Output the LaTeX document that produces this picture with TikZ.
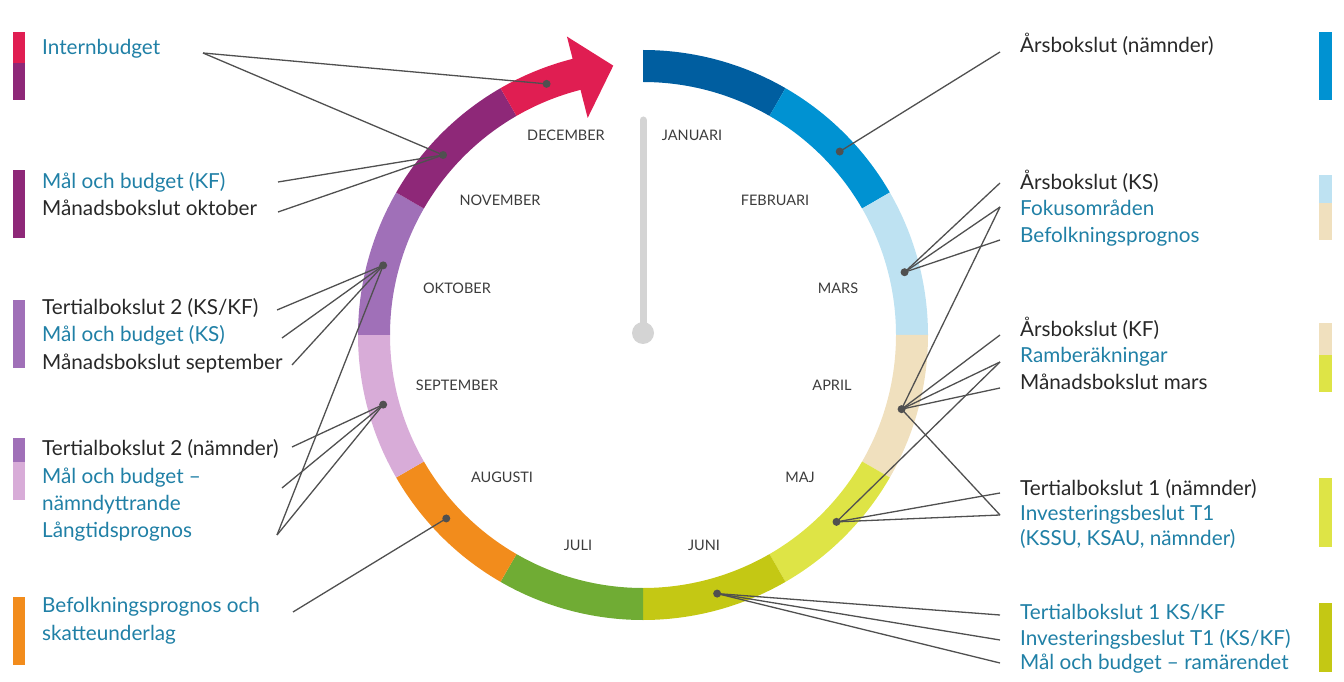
\documentclass[tikz,border=0pt]{standalone}
\usepackage{fontspec}
\setmainfont{Lato}
\usetikzlibrary{calc,positioning}
\definecolor{janc}{RGB}{0,94,160}
\definecolor{febc}{RGB}{0,146,210}
\definecolor{marc}{RGB}{190,226,242}
\definecolor{aprc}{RGB}{240,224,190}
\definecolor{majc}{RGB}{222,228,70}
\definecolor{junc}{RGB}{196,200,20}
\definecolor{julc}{RGB}{112,172,52}
\definecolor{augc}{RGB}{242,140,28}
\definecolor{sepc}{RGB}{216,172,216}
\definecolor{oktc}{RGB}{160,112,184}
\definecolor{novc}{RGB}{142,40,120}
\definecolor{decc}{RGB}{224,30,82}
\definecolor{tblue}{RGB}{32,128,166}
\definecolor{tdark}{RGB}{40,40,40}
\definecolor{leadc}{RGB}{80,80,80}
\definecolor{rodc}{RGB}{212,212,212}
\definecolor{monthc}{RGB}{60,60,60}

\begin{document}
\begin{tikzpicture}[x=1pt,y=1pt,
    txt/.style={anchor=west,inner sep=0pt,text height=15pt,text depth=5pt,
      font=\fontsize{20.7}{25}\selectfont},
    blu/.style={txt,text=tblue},
    drk/.style={txt,text=tdark},
    month/.style={font=\fontsize{14.5}{16}\selectfont,text=monthc},
    lead/.style={leadc,line width=1.3pt},
    dot/.style={fill=leadc}]
      \useasboundingbox (0,0) rectangle (1344,681);
      % Centre of the year wheel
      \coordinate (O) at (643,346);
      % Month segments (outer 285, inner 253)
      \begin{scope}[shift={(O)}]
        \fill[janc] (90:285) arc (90:60:285) -- (60:253) arc (60:90:253) -- cycle;
        \fill[febc] (60:285) arc (60:30:285) -- (30:253) arc (30:60:253) -- cycle;
        \fill[marc] (30:285) arc (30:0:285) -- (0:253) arc (0:30:253) -- cycle;
        \fill[aprc] (0:285) arc (0:-30:285) -- (-30:253) arc (-30:0:253) -- cycle;
        \fill[majc] (-30:285) arc (-30:-60:285) -- (-60:253) arc (-60:-30:253) -- cycle;
        \fill[junc] (-60:285) arc (-60:-90:285) -- (-90:253) arc (-90:-60:253) -- cycle;
        \fill[julc] (-90:285) arc (-90:-120:285) -- (-120:253) arc (-120:-90:253) -- cycle;
        \fill[augc] (-120:285) arc (-120:-150:285) -- (-150:253) arc (-150:-120:253) -- cycle;
        \fill[sepc] (-150:285) arc (-150:-180:285) -- (-180:253) arc (-180:-150:253) -- cycle;
        \fill[oktc] (180:285) arc (180:150:285) -- (150:253) arc (150:180:253) -- cycle;
        \fill[novc] (150:285) arc (150:120:285) -- (120:253) arc (120:150:253) -- cycle;
        % December with arrow head
        \fill[decc] (120:285) arc (120:104.3:285) -- (104.3:308) -- (96.3:271)
          -- (104.3:224) -- (104.3:253) arc (104.3:120:253) -- cycle;
        % Dots on the ring
        \coordinate (dDec) at (111:269);
        \coordinate (dNov) at (138:269);
        \coordinate (dOkt) at (165:269);
        \coordinate (dSep) at (195:269);
        \coordinate (dAug) at (223:269);
        \coordinate (dJun) at (-74:269);
        \coordinate (dMaj) at (-44:269);
        \coordinate (dApr) at (-16:269);
        \coordinate (dMar) at (13.5:269);
        \coordinate (dFeb) at (43:269);
      \end{scope}
      % Pointer in the middle
      \draw[rodc,line width=7pt,line cap=round] (643,561) -- (O);
      \fill[rodc] (643,348) circle (11);
      % Month names
      \node[month] (mDec) at (566,546) {DECEMBER};
      \node[month] (mJan) at (692,546) {JANUARI};
      \node[month] (mNov) at (500,481) {NOVEMBER};
      \node[month] (mFeb) at (775,481) {FEBRUARI};
      \node[month] (mOkt) at (457,393) {OKTOBER};
      \node[month] (mMar) at (838,393) {MARS};
      \node[month] (mSep) at (457,296) {SEPTEMBER};
      \node[month] (mApr) at (832,296) {APRIL};
      \node[month] (mAug) at (502,204) {AUGUSTI};
      \node[month] (mMaj) at (800,204) {MAJ};
      \node[month] (mJul) at (578,136) {JULI};
      \node[month] (mJun) at (704,136) {JUNI};
      % Colour bars, left
      \fill[decc] (13,649) rectangle (25,618);
      \fill[novc] (13,618) rectangle (25,581);
      \fill[novc] (13,511) rectangle (25,443);
      \fill[oktc] (13,381) rectangle (25,313);
      \fill[oktc] (13,243) rectangle (25,219);
      \fill[sepc] (13,219) rectangle (25,181);
      \fill[augc] (13,84) rectangle (25,16);
      % Colour bars, right
      \fill[febc] (1319,649) rectangle (1332,581);
      \fill[marc] (1319,506) rectangle (1332,478);
      \fill[aprc] (1319,478) rectangle (1332,441);
      \fill[aprc] (1319,358) rectangle (1332,326);
      \fill[majc] (1319,326) rectangle (1332,289);
      \fill[majc] (1319,203) rectangle (1332,134);
      \fill[junc] (1319,78) rectangle (1332,9);
      % Texts, left
      \node[blu] (intern) at (42,631) {Internbudget};
      \node[blu] (kfA) at (42,497) {Mål och budget (KF)};
      \node[drk] (kfB) at (42,470) {Månadsbokslut oktober};
      \node[drk] (ksA) at (42,371) {Tertialbokslut 2 (KS/KF)};
      \node[blu] (ksB) at (42,344) {Mål och budget (KS)};
      \node[drk] (ksC) at (42,316) {Månadsbokslut september};
      \node[drk] (nmA) at (42,231) {Tertialbokslut 2 (nämnder)};
      \node[blu] (nmB) at (42,203) {Mål och budget –};
      \node[blu] (nmC) at (42,176) {nämndyttrande};
      \node[blu] (nmD) at (42,149) {Långtidsprognos};
      \node[blu] (befA) at (42,74) {Befolkningsprognos och};
      \node[blu] (befB) at (42,46) {skatteunderlag};
      % Texts, right
      \node[drk] (arsN) at (1020,633) {Årsbokslut (nämnder)};
      \node[drk] (arsKS) at (1020,496) {Årsbokslut (KS)};
      \node[blu] (fokus) at (1020,470) {Fokusområden};
      \node[blu] (befR) at (1020,443) {Befolkningsprognos};
      \node[drk] (arsKF) at (1020,349) {Årsbokslut (KF)};
      \node[blu] (ramb) at (1020,323) {Ramberäkningar};
      \node[drk] (mbMar) at (1020,296) {Månadsbokslut mars};
      \node[drk] (t1A) at (1020,191) {Tertialbokslut 1 (nämnder)};
      \node[blu] (t1B) at (1020,166) {Investeringsbeslut T1};
      \node[blu] (t1C) at (1020,141) {(KSSU, KSAU, nämnder)};
      \node[blu] (juA) at (1020,67) {Tertialbokslut 1 KS/KF};
      \node[blu] (juB) at (1020,41) {Investeringsbeslut T1 (KS/KF)};
      \node[blu] (juC) at (1020,17) {Mål och budget – ramärendet};
      % Free ends of the leader lines
      \coordinate (eIntern) at (203,628);
      \coordinate (eKfA) at (278,499);
      \coordinate (eKfB) at (278,469);
      \coordinate (eKsA) at (277,371);
      \coordinate (eKsB) at (282,343);
      \coordinate (eKsC) at (292,316);
      \coordinate (eNmA) at (292,234);
      \coordinate (eNmB) at (282,193);
      \coordinate (eNmD) at (277,146);
      \coordinate (eBef) at (293,69);
      \coordinate (eArsN) at (1000,629);
      \coordinate (eArsKS) at (1000,498);
      \coordinate (eFokus) at (1000,474);
      \coordinate (eBefR) at (1000,441);
      \coordinate (eArsKF) at (1000,346);
      \coordinate (eRamb) at (1000,319);
      \coordinate (eMbMar) at (1000,293);
      \coordinate (eT1A) at (1000,188);
      \coordinate (eT1B) at (1000,166);
      \coordinate (eJuA) at (1000,66);
      \coordinate (eJuB) at (1000,41);
      \coordinate (eJuC) at (1000,18);
      % Leader lines, left
      \draw[lead] (eIntern) -- (dDec);
      \draw[lead] (eIntern) -- (dNov);
      \draw[lead] (eKfA) -- (dNov);
      \draw[lead] (eKfB) -- (dNov);
      \draw[lead] (eKsA) -- (dOkt);
      \draw[lead] (eKsB) -- (dOkt);
      \draw[lead] (eKsC) -- (dOkt);
      \draw[lead] (eNmD) -- (dOkt);
      \draw[lead] (eNmA) -- (dSep);
      \draw[lead] (eNmB) -- (dSep);
      \draw[lead] (eNmD) -- (dSep);
      \draw[lead] (eBef) -- (dAug);
      % Leader lines, right
      \draw[lead] (eArsN) -- (dFeb);
      \draw[lead] (eArsKS) -- (dMar);
      \draw[lead] (eFokus) -- (dMar);
      \draw[lead] (eBefR) -- (dMar);
      \draw[lead] (eFokus) -- (dApr);
      \draw[lead] (eArsKF) -- (dApr);
      \draw[lead] (eRamb) -- (dApr);
      \draw[lead] (eMbMar) -- (dApr);
      \draw[lead] (eRamb) -- (dMaj);
      \draw[lead] (eT1A) -- (dMaj);
      \draw[lead] (eT1B) -- (dMaj);
      \draw[lead] (eT1B) -- (dApr);
      \draw[lead] (eJuA) -- (dJun);
      \draw[lead] (eJuB) -- (dJun);
      \draw[lead] (eJuC) -- (dJun);
      % Dots
      \foreach \d in {dDec,dNov,dOkt,dSep,dAug,dJun,dMaj,dApr,dMar,dFeb}
        \fill[dot] (\d) circle (4);
\end{tikzpicture}
\end{document}
